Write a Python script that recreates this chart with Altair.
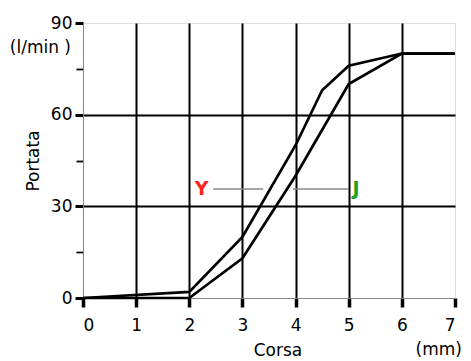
import altair as alt
import pandas as pd

# Data
x_upper = [0, 2, 3, 4, 4.5, 5, 6, 7]
y_upper = [0, 2, 20, 50, 68, 76, 80, 80]
x_lower = [0, 2, 3, 4, 5, 6, 7]
y_lower = [0, 0, 13, 40, 70, 80, 80]

label_text = ["Y", "J"]
label_x = [2.23, 5.14]
label_y = [35.7, 35.7]
label_color = ["#ff2020", "#20a020"]
conn_x1 = [2.45, 3.95]
conn_x2 = [3.39, 4.99]
conn_y = [35.7, 35.7]

x_ticks = [i * 0.5 for i in range(15)]
y_ticks = [0, 15, 30, 45, 60, 75, 90]

FONT = "DejaVu Sans"

df = pd.concat([
    pd.DataFrame({"x": x_upper, "y": y_upper, "s": "Y"}),
    pd.DataFrame({"x": x_lower, "y": y_lower, "s": "J"}),
])
lab = pd.DataFrame({"t": label_text, "x": label_x, "y": label_y, "c": label_color})
conn = pd.DataFrame({"x1": conn_x1, "x2": conn_x2, "y": conn_y})

xscale = alt.Scale(domain=[0, 7], nice=False, zero=False)
yscale = alt.Scale(domain=[0, 90], nice=False, zero=False)

xaxis = alt.Axis(
    values=x_ticks,
    labelExpr="datum.value % 1 === 0 ? format(datum.value, 'd') : ''",
    labelFont=FONT, labelFontSize=17, labelColor="black", labelPadding=10,
    tickColor="black",
    tickWidth={"condition": {"test": "datum.value % 1 === 0", "value": 3.5}, "value": 1.8},
    tickSize={"condition": {"test": "datum.value % 1 === 0", "value": 9}, "value": 7},
    domainColor="#888888", domainWidth=1,
    grid=True, gridColor="black", gridWidth=2,
    gridOpacity={"condition": {"test": "datum.value % 1 === 0 && datum.value > 0 && datum.value < 7", "value": 1}, "value": 0},
    title="Corsa", titleFont=FONT, titleFontSize=17, titleFontWeight="normal", titleColor="black",
    titleX=194.5, titleY=57, titleBaseline="alphabetic", titleAlign="center",
)
yaxis = alt.Axis(
    values=y_ticks,
    labelExpr="datum.value % 30 === 0 ? format(datum.value, 'd') : ''",
    labelFont=FONT, labelFontSize=17, labelColor="black", labelPadding=3,
    tickColor="black",
    tickWidth={"condition": {"test": "datum.value % 30 === 0", "value": 3}, "value": 1.8},
    tickSize={"condition": {"test": "datum.value % 30 === 0", "value": 8}, "value": 7},
    domainColor="#888888", domainWidth=1,
    grid=True, gridColor="black", gridWidth=2,
    gridOpacity={"condition": {"test": "datum.value === 30 || datum.value === 60", "value": 1}, "value": 0},
    title="Portata", titleFont=FONT, titleFontSize=17, titleFontWeight="normal", titleColor="black",
    titleX=-50, titleY=137.5, titleAngle=270, titleBaseline="middle", titleAlign="center",
)

lines = alt.Chart(df).mark_line(color="black", strokeWidth=2.7).encode(
    x=alt.X("x:Q", scale=xscale, axis=xaxis),
    y=alt.Y("y:Q", scale=yscale, axis=yaxis),
    detail="s:N",
)

connectors = alt.Chart(conn).mark_rule(color="#888888", strokeWidth=1.5).encode(
    x="x1:Q", x2="x2:Q", y="y:Q"
)

labels = alt.Chart(lab).mark_text(font=FONT, fontSize=19, fontWeight="bold", baseline="middle").encode(
    x="x:Q", y="y:Q", text="t:N", color=alt.Color("c:N", scale=None)
)

unit_y = alt.Chart(pd.DataFrame({"t": ["(l/min )"]})).mark_text(
    font=FONT, fontSize=17, align="right", baseline="alphabetic", color="black"
).encode(x=alt.value(-12), y=alt.value(30), text="t:N")

unit_x = alt.Chart(pd.DataFrame({"t": ["(mm)"]})).mark_text(
    font=FONT, fontSize=17, align="right", baseline="alphabetic", color="black"
).encode(x=alt.value(379), y=alt.value(332), text="t:N")

chart = alt.layer(lines, connectors, labels, unit_y, unit_x).properties(
    width=372, height=275,
    autosize=alt.AutoSizeParams(type="none"),
    padding={"left": 75, "top": 15, "right": 8, "bottom": 62},
).configure_view(stroke="#888888", strokeWidth=1).configure(background="white")

chart.save("out.html", embed_options={"renderer": "svg", "actions": False})
